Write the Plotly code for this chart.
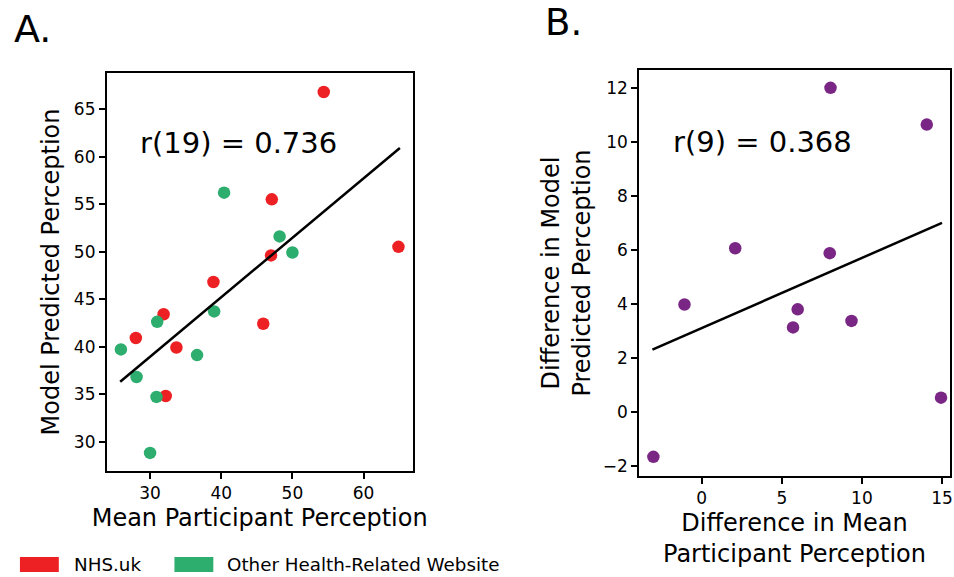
import plotly.graph_objects as go

# ---------------- data ----------------
# Panel A
nhs_x = [54.4, 47.1, 64.9, 47.0, 38.9, 31.9, 45.9, 28.0, 33.7, 32.2]
nhs_y = [66.8, 55.5, 50.5, 49.6, 46.8, 43.4, 42.4, 40.9, 39.9, 34.8]
other_x = [40.4, 48.2, 50.0, 39.0, 31.0, 25.9, 36.6, 28.1, 30.9, 30.0]
other_y = [56.2, 51.6, 49.9, 43.7, 42.6, 39.7, 39.1, 36.8, 34.7, 28.8]
fit_a_x = [25.8, 65.1]
fit_a_y = [36.3, 60.9]
xticks_a = [30, 40, 50, 60]
yticks_a = [30, 35, 40, 45, 50, 55, 60, 65]

# Panel B
diff_x = [8.04, 14.05, 2.09, 7.99, -1.08, 5.99, 5.70, 9.35, 14.94, -3.02]
diff_y = [12.0, 10.64, 6.06, 5.88, 3.98, 3.80, 3.13, 3.37, 0.53, -1.66]
fit_b_x = [-3.08, 15.0]
fit_b_y = [2.31, 7.0]
xticks_b = [0, 5, 10, 15]
yticks_b = [-2, 0, 2, 4, 6, 8, 10, 12]

legend_labels = ["NHS.uk", "Other Health-Related Website"]

RED = "rgb(237,32,36)"
GREEN = "rgb(46,174,110)"
PURPLE = "rgb(122,38,132)"
FONT = "DejaVu Sans"
W, H = 954, 577
TITLE_SIZE = 24

def px(x):
    return x / W

def py(y):
    return 1 - y / H

fig = go.Figure()

fig.add_trace(go.Scatter(x=nhs_x, y=nhs_y, mode="markers", xaxis="x", yaxis="y",
                         marker=dict(color=RED, size=12.5, line=dict(width=0)),
                         name=legend_labels[0], showlegend=False))
fig.add_trace(go.Scatter(x=other_x, y=other_y, mode="markers", xaxis="x", yaxis="y",
                         marker=dict(color=GREEN, size=12.5, line=dict(width=0)),
                         name=legend_labels[1], showlegend=False))
fig.add_trace(go.Scatter(x=fit_a_x, y=fit_a_y, mode="lines", xaxis="x", yaxis="y",
                         line=dict(color="black", width=2.5), showlegend=False))

fig.add_trace(go.Scatter(x=diff_x, y=diff_y, mode="markers", xaxis="x2", yaxis="y2",
                         marker=dict(color=PURPLE, size=12.5, line=dict(width=0)),
                         showlegend=False))
fig.add_trace(go.Scatter(x=fit_b_x, y=fit_b_y, mode="lines", xaxis="x2", yaxis="y2",
                         line=dict(color="black", width=2.5), showlegend=False))

axis_common = dict(showline=True, linecolor="black", linewidth=1.5, mirror=True,
                   ticks="outside", ticklen=6, tickwidth=1.5, tickcolor="black",
                   showgrid=False, zeroline=False, ticklabeloverflow="allow",
                   tickfont=dict(family=FONT, size=17, color="black"))

fig.update_layout(
    width=W, height=H,
    margin=dict(l=0, r=0, t=0, b=0),
    paper_bgcolor="white", plot_bgcolor="white",
    font=dict(family=FONT, color="black"),
    xaxis=dict(domain=[px(107), px(414)], range=[23.9, 66.9], anchor="y",
               tickvals=xticks_a,
               title=dict(text="Mean Participant Perception", standoff=7,
                          font=dict(family=FONT, size=TITLE_SIZE)),
               **axis_common),
    yaxis=dict(domain=[py(471), py(73)], range=[26.9, 68.8], anchor="x",
               tickvals=yticks_a,
               title=dict(text="Model Predicted Perception", standoff=7,
                          font=dict(family=FONT, size=TITLE_SIZE)),
               **axis_common),
    xaxis2=dict(domain=[px(641), px(953)], range=[-3.92, 15.5], anchor="y2",
                tickvals=xticks_b,
                title=dict(text="Difference in Mean<br>Participant Perception", standoff=7,
                           font=dict(family=FONT, size=TITLE_SIZE)),
                **axis_common),
    yaxis2=dict(domain=[py(476), py(70)], range=[-2.37, 12.66], anchor="x2",
                tickvals=yticks_b,
                title=dict(text="Difference in Model<br>Predicted Perception", standoff=5,
                           font=dict(family=FONT, size=TITLE_SIZE)),
                **axis_common),
)

annotations = [
    dict(text="r(19) = 0.736", x=28.36, y=61.44, xref="x", yref="y",
         xanchor="left", yanchor="middle", showarrow=False,
         font=dict(family=FONT, size=29, color="black")),
    dict(text="r(9) = 0.368", x=-1.9, y=10.0, xref="x2", yref="y2",
         xanchor="left", yanchor="middle", showarrow=False,
         font=dict(family=FONT, size=29, color="black")),
    dict(text="A.", x=px(12), y=py(29), xref="paper", yref="paper",
         xanchor="left", yanchor="middle", showarrow=False,
         font=dict(family=FONT, size=38, color="black")),
    dict(text="B.", x=px(545), y=py(23), xref="paper", yref="paper",
         xanchor="left", yanchor="middle", showarrow=False,
         font=dict(family=FONT, size=37, color="black")),
    dict(text=legend_labels[0], x=px(72), y=py(564.5), xref="paper", yref="paper",
         xanchor="left", yanchor="middle", showarrow=False,
         font=dict(family=FONT, size=18.3, color="black")),
    dict(text=legend_labels[1], x=px(226), y=py(564.5), xref="paper", yref="paper",
         xanchor="left", yanchor="middle", showarrow=False,
         font=dict(family=FONT, size=18.3, color="black")),
]
fig.update_layout(annotations=annotations)

shapes = [
    dict(type="rect", xref="paper", yref="paper", x0=px(20), x1=px(59),
         y0=py(572), y1=py(557), fillcolor=RED, line=dict(width=0)),
    dict(type="rect", xref="paper", yref="paper", x0=px(175), x1=px(214),
         y0=py(572), y1=py(557), fillcolor=GREEN, line=dict(width=0)),
]
fig.update_layout(shapes=shapes)

fig.write_html("out.html",
               config={"displayModeBar": False},
               post_script="document.body.style.margin='0px';"
                           "document.body.style.overflow='hidden';")
